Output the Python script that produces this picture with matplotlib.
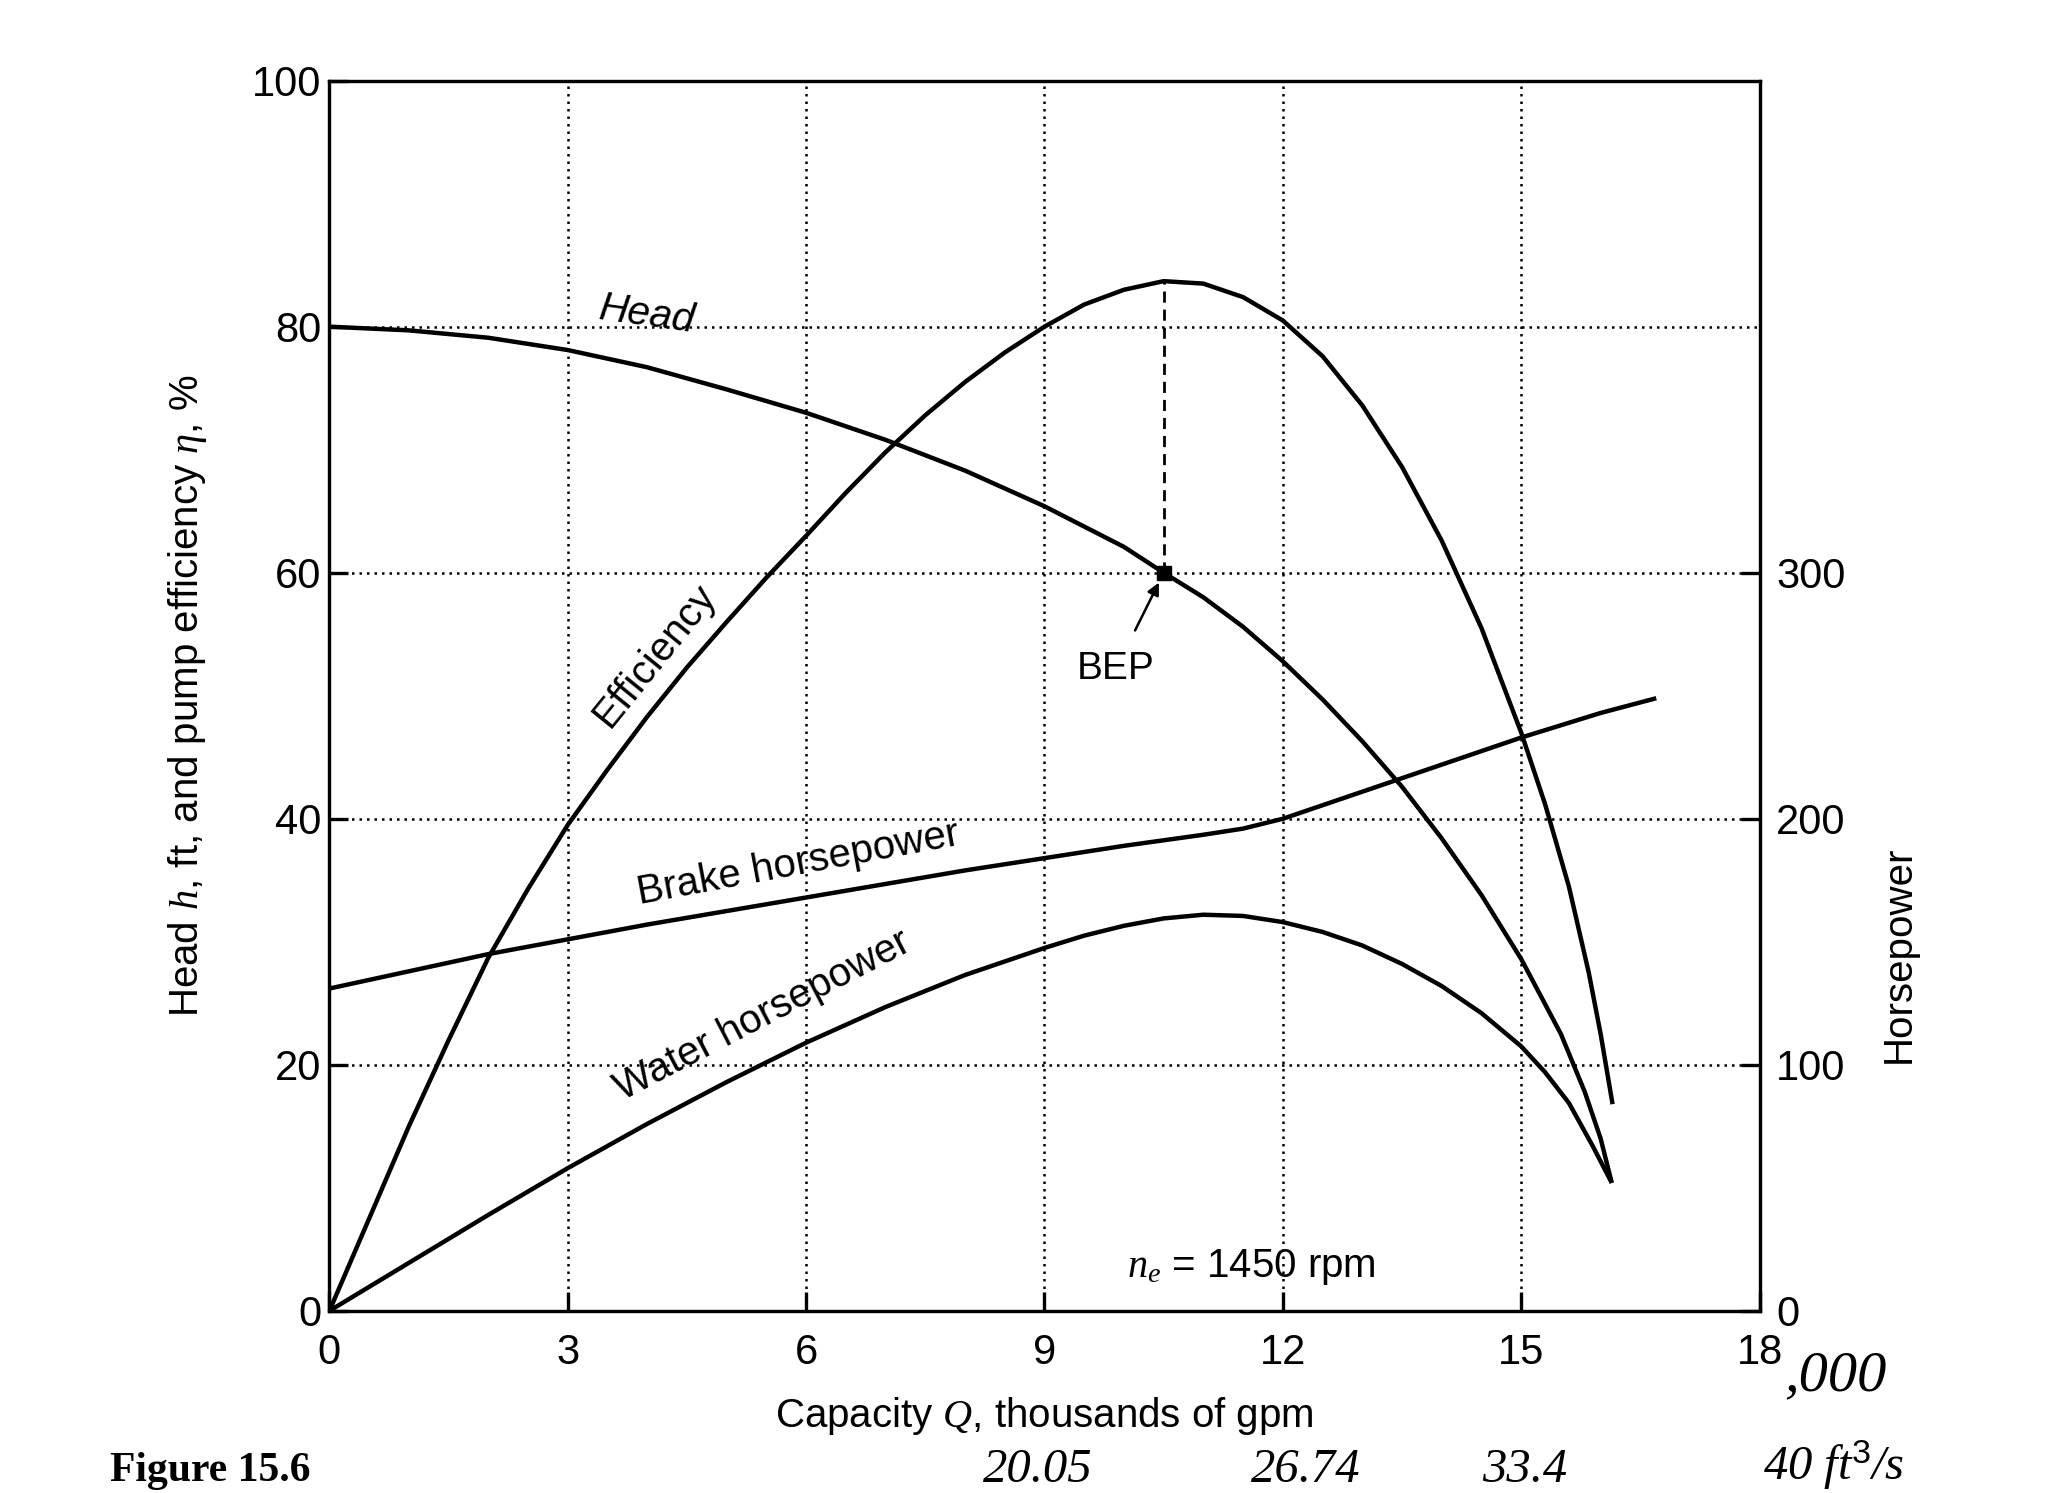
import matplotlib
matplotlib.use("Agg")
import matplotlib.pyplot as plt
import numpy as np

# ---- data (capacity in thousands of gpm) ----
eff_q = [0, 0.5, 1, 1.5, 2, 2.5, 3, 3.5, 4, 4.5, 5, 5.5, 6, 6.5, 7, 7.5, 8, 8.5, 9,
         9.5, 10, 10.5, 11, 11.5, 12, 12.5, 13, 13.5, 14, 14.5, 15, 15.3, 15.6,
         15.85, 16.0, 16.15]
eff_val = [0, 7.5, 15, 22, 28.7, 34.3, 39.5, 44, 48.3, 52.3, 56, 59.6, 63, 66.5,
           69.8, 72.8, 75.5, 77.9, 80, 81.8, 83, 83.7, 83.5, 82.4, 80.5, 77.6, 73.6,
           68.6, 62.6, 55.5, 47, 41.2, 34.5, 27.5, 22.5, 16.8]

head_q = [0, 1, 2, 3, 4, 5, 6, 7, 8, 9, 10, 10.5, 11, 11.5, 12, 12.5, 13, 13.5, 14,
          14.5, 15, 15.5, 15.8, 16.0, 16.14]
head_val = [80, 79.7, 79.1, 78.1, 76.7, 74.9, 73.0, 70.8, 68.3, 65.4, 62.1, 60,
            58.0, 55.6, 52.8, 49.7, 46.3, 42.6, 38.4, 33.8, 28.6, 22.5, 17.8, 14.0,
            10.4]

bhp_q = [0, 1, 2, 3, 4, 5, 6, 7, 8, 9, 10, 11, 11.5, 12, 12.5, 13, 14, 15, 16, 16.7]
bhp_val = [131, 138, 145, 151, 157, 162.5, 168, 173.5, 179, 184, 189, 193.5, 196,
           200, 205.5, 211, 222, 233, 243, 249]

whp_q = [0, 1, 2, 3, 4, 5, 6, 7, 8, 9, 9.5, 10, 10.5, 11, 11.5, 12, 12.5, 13, 13.5,
         14, 14.5, 15, 15.3, 15.6, 15.9, 16.14]
whp_val = [0, 19.5, 39, 58, 76, 93, 109, 123.5, 136.5, 147.5, 152.5, 156.5, 159.5,
           161, 160.5, 158, 154, 148.5, 141, 132, 121, 107.5, 97, 84.5, 67, 52]

bep_q = 10.5
bep_head = 60.0
bep_eff = 83.7

x_ticks = [0, 3, 6, 9, 12, 15, 18]
left_ticks = [0, 20, 40, 60, 80, 100]
right_ticks = [0, 100, 200, 300]
flow_notes = ["20.05", "26.74", "33.4", "40 ft$^3$/s"]

FONT = ['Liberation Sans Narrow', 'Liberation Sans', 'DejaVu Sans']
plt.rcParams['font.family'] = FONT
plt.rcParams['mathtext.fontset'] = 'custom'
plt.rcParams['mathtext.it'] = 'Liberation Serif:italic'
plt.rcParams['mathtext.rm'] = 'Liberation Sans'

fig = plt.figure(figsize=(20.46, 14.93), dpi=100)
ax = fig.add_axes([0.161, 0.122, 0.699, 0.824])
ax2 = ax.twinx()

LW = 3.2
for q, v, a in ((eff_q, eff_val, ax), (head_q, head_val, ax),
                (bhp_q, bhp_val, ax2), (whp_q, whp_val, ax2)):
    a.plot(q, v, color='black', lw=LW, solid_capstyle='butt', solid_joinstyle='round')

ax.set_xlim(0, 18)
ax.set_ylim(0, 100)
ax2.set_ylim(0, 500)

# grid
for xv in x_ticks[1:-1]:
    ax.axvline(xv, color='black', lw=1.8, ls=(0, (1, 2.0)), zorder=0)
for yv in left_ticks[1:-1]:
    ax.axhline(yv, color='black', lw=1.8, ls=(0, (1, 2.0)), zorder=0)

# BEP
ax.plot([bep_q, bep_q], [bep_head, bep_eff], color='black', lw=2.0, ls=(0, (4, 2.5)))
ax.plot([bep_q], [bep_head], marker='s', ms=10, color='black')
ax.annotate('BEP', xy=(bep_q - 0.06, bep_head - 0.8), xytext=(9.9, 52.2),
            fontsize=28, ha='center', va='center',
            arrowprops=dict(arrowstyle='-|>', color='black', lw=1.8,
                            mutation_scale=18, shrinkA=14, shrinkB=0))

# curve labels
ax.text(4.0, 81.0, 'Head', fontsize=29, style='italic', rotation=-8,
        ha='center', va='center')
ax.text(4.1, 53.3, 'Efficiency', fontsize=29, rotation=51,
        ha='center', va='center')
ax.text(5.9, 36.4, 'Brake horsepower', fontsize=29, rotation=10.5,
        ha='center', va='center')
ax.text(5.45, 24.0, 'Water horsepower', fontsize=29, rotation=27.5,
        ha='center', va='center')
ax.text(11.6, 3.6, r'$n_e$ = 1450 rpm', fontsize=29, ha='center', va='center')

# ticks
ax.set_xticks(x_ticks)
ax.set_yticks(left_ticks)
ax2.set_yticks(right_ticks)
ax.tick_params(direction='in', length=14, width=2.4, labelsize=30, pad=16)
ax.tick_params(axis='y', pad=6)
ax2.tick_params(direction='in', length=14, width=2.4, labelsize=30, pad=12)

for a in (ax, ax2):
    for s in a.spines.values():
        s.set_linewidth(2.3)

ax.set_xlabel(r'Capacity $Q$, thousands of gpm', fontsize=29)
ax.xaxis.set_label_coords(0.5, -0.068)
ax.set_ylabel(r'Head $h$, ft, and pump efficiency $\eta$, %', fontsize=29)
ax.yaxis.set_label_coords(-0.084, 0.5)
ax2.set_ylabel('Horsepower', fontsize=29)
ax2.yaxis.set_label_coords(1.084, 0.29)

# handwritten notes
HAND = dict(family=['Liberation Serif', 'DejaVu Serif'], style='italic')
fig.text(0.872, 0.078, ',000', ha='left', va='center', fontsize=42, **HAND)
for xpos, note in zip([0.507, 0.638, 0.745, 0.896], flow_notes):
    fig.text(xpos, 0.001, note, ha='center', va='bottom', fontsize=35, **HAND)

fig.text(0.054, 0.002, 'Figure 15.6', ha='left', va='bottom', fontsize=30,
         fontweight='bold', family=['Liberation Serif', 'DejaVu Serif'])

fig.savefig('out.png', dpi=100, facecolor='white')
